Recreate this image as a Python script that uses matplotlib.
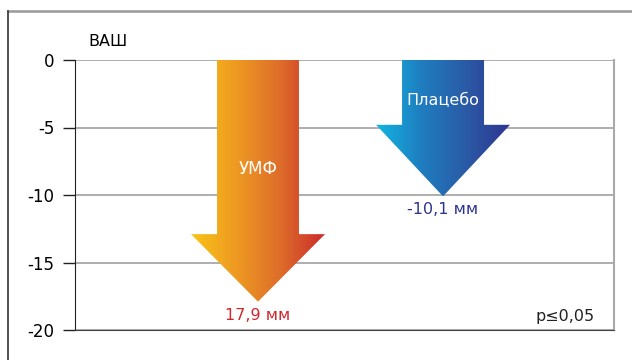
import numpy as np
import matplotlib.pyplot as plt
from matplotlib.patches import Polygon
from matplotlib.colors import LinearSegmentedColormap
from matplotlib.lines import Line2D

plt.rcParams['font.family'] = ['DejaVu Sans']

groups = ['УМФ', 'Плацебо']
values = [-17.9, -10.1]
value_labels = ['17,9 мм', '-10,1 мм']
yticks = [0, -5, -10, -15, -20]

head_len = [5.0, 5.3]
shaft_w = 0.443
head_w = 0.724
cmaps = [
    LinearSegmentedColormap.from_list('o', ['#F9C318', '#EE9A22', '#DE6D2A', '#CC2B2B']),
    LinearSegmentedColormap.from_list('b', ['#12B5E3', '#1F7EC0', '#2A5BA6', '#2E3590']),
]
label_colors = ['#D4262E', '#2E3590']

fig = plt.figure(figsize=(6.32, 3.6), dpi=100)
ax = fig.add_axes([75 / 632, 30 / 360, 539 / 632, 270 / 360])
ax.set_xlim(0.011, 2.924)
ax.set_ylim(-20, 0)

for y in yticks:
    ax.axhline(y, color='#999999', lw=1.1, zorder=0)

grad = np.linspace(0, 1, 256).reshape(1, -1)
for i, (name, v) in enumerate(zip(groups, values)):
    x = i + 1
    hs = v + head_len[i]
    pts = [(x - shaft_w / 2, 0), (x + shaft_w / 2, 0), (x + shaft_w / 2, hs),
           (x + head_w / 2, hs), (x, v), (x - head_w / 2, hs), (x - shaft_w / 2, hs)]
    poly = Polygon(pts, closed=True, facecolor='none', edgecolor='none')
    ax.add_patch(poly)
    im = ax.imshow(grad, cmap=cmaps[i], aspect='auto', zorder=2,
                   extent=(x - head_w / 2, x + head_w / 2, v, 0))
    im.set_clip_path(poly)
    ax.text(x, v - 1.0, value_labels[i], color=label_colors[i], fontsize=11.5,
            ha='center', va='center')

ax.text(1, -8.1, groups[0], color='white', fontsize=12, ha='center', va='center', zorder=3)
ax.text(2, -3.0, groups[1], color='white', fontsize=11.5, ha='center', va='center', zorder=3)
ax.text(2.66, -19.0, 'p≤0,05', color='#222222', fontsize=11.5, ha='center', va='center')

ax.set_yticks(yticks)
ax.set_yticklabels([str(t) for t in yticks], fontsize=12)
ax.set_xticks([])
ax.tick_params(axis='y', length=9, width=1, color='#222222', pad=6)
ax.spines['top'].set_visible(False)
ax.spines['left'].set_color('#222222')
ax.spines['bottom'].set_color('#444444')
ax.spines['right'].set_color('#aaaaaa')
ax.spines['right'].set_linewidth(1.5)

fig.text(88 / 632, 1 - 41 / 360, 'ВАШ', fontsize=11.5, ha='left', va='center')

fig.add_artist(Line2D([8 / 632, 1], [1 - 11 / 360] * 2, color='#999999', lw=1.8))
fig.add_artist(Line2D([8 / 632] * 2, [0, 1 - 11 / 360], color='#333333', lw=1.2))

fig.savefig('out.png', dpi=100)
